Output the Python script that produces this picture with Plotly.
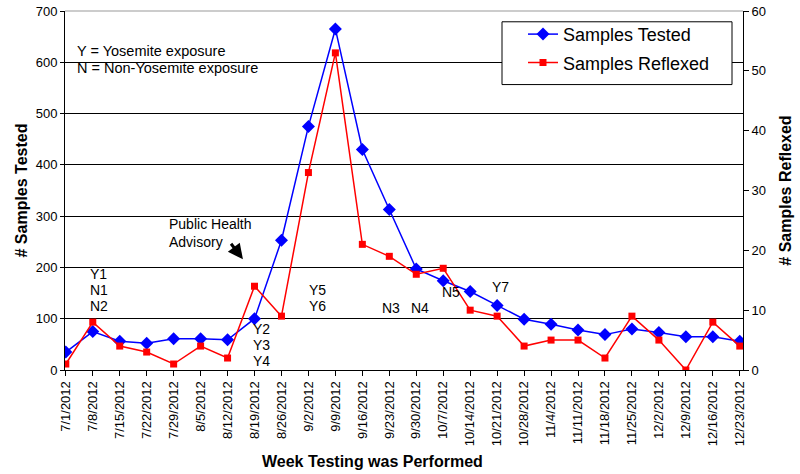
import plotly.graph_objects as go

weeks = ["7/1/2012", "7/8/2012", "7/15/2012", "7/22/2012", "7/29/2012", "8/5/2012",
         "8/12/2012", "8/19/2012", "8/26/2012", "9/2/2012", "9/9/2012", "9/16/2012",
         "9/23/2012", "9/30/2012", "10/7/2012", "10/14/2012", "10/21/2012", "10/28/2012",
         "11/4/2012", "11/11/2012", "11/18/2012", "11/25/2012", "12/2/2012", "12/9/2012",
         "12/16/2012", "12/23/2012"]
samples_tested = [35, 75, 56, 52, 61, 61, 59, 100, 253, 475, 665, 430, 313, 197, 174,
                  153, 126, 99, 89, 78, 69, 80, 73, 65, 65, 56]
samples_reflexed = [1, 8, 4, 3, 1, 4, 2, 14, 9, 33, 53, 21, 19, 16, 17, 10, 9, 4, 5, 5,
                    2, 9, 5, 0, 8, 4]
left_ticks = [0, 100, 200, 300, 400, 500, 600, 700]
right_ticks = [0, 10, 20, 30, 40, 50, 60]

# exposure labels: (text, x category index, y in left-axis units)
exposure_labels = [("Y1", 0.82, 188), ("N1", 0.82, 156), ("N2", 0.82, 125),
                   ("Y2", 6.88, 80), ("Y3", 6.88, 49), ("Y4", 6.88, 18),
                   ("Y5", 8.94, 156), ("Y6", 8.94, 125),
                   ("N3", 11.65, 120), ("N4", 12.72, 120),
                   ("N5", 13.87, 152), ("Y7", 15.73, 162)]

FONT = "Arial, Liberation Sans, sans-serif"

W, H = 800, 474
L, R, T, B = 65, 57, 4, 104
pw, ph = W - L - R, H - T - B


def px_x(p):
    return (p - L) / pw


def px_y(p):
    return 1 - (p - T) / ph


fig = go.Figure()
fig.add_trace(go.Scatter(x=weeks, y=samples_tested, name="Samples Tested", mode="lines+markers",
                         line=dict(color="#0000ff", width=1.5),
                         marker=dict(symbol="diamond", size=10, color="#0000ff"),
                         legendgroup="a"))
fig.add_trace(go.Scatter(x=weeks, y=samples_reflexed, name="Samples Reflexed", mode="lines+markers",
                         line=dict(color="#ff0000", width=1.5),
                         marker=dict(symbol="square", size=7, color="#ff0000"),
                         yaxis="y2", legendgroup="b"))

annotations = []
for txt, xi, yv in exposure_labels:
    annotations.append(dict(x=xi, y=yv, xref="x", yref="y", text=txt, showarrow=False,
                            xanchor="left", yanchor="middle", font=dict(size=14, color="black")))
for txt, px, py, fs in [("Y = Yosemite exposure", 75, 45, 14.5),
                        ("N = Non-Yosemite exposure", 75, 62, 14.5),
                        ("Public Health", 167, 221, 14),
                        ("Advisory", 167, 239, 14)]:
    annotations.append(dict(x=px_x(px), y=px_y(py), xref="paper", yref="paper", text=txt,
                            showarrow=False, xanchor="left", yanchor="middle",
                            font=dict(size=fs, color="black")))

# arrow for advisory
annotations.append(dict(x=6.57, y=216, xref="x", yref="y", text="", showarrow=True,
                        ax=-13, ay=-17, arrowhead=2, arrowsize=1, arrowwidth=3,
                        arrowcolor="black"))
# x axis title
annotations.append(dict(x=px_x(372), y=px_y(463), xref="paper", yref="paper",
                        text="<b>Week Testing was Performed</b>", showarrow=False,
                        xanchor="center", yanchor="middle",
                        font=dict(size=16, color="black")))

fig.update_layout(
    width=W, height=H,
    margin=dict(l=L, r=R, t=T, b=B),
    paper_bgcolor="white", plot_bgcolor="white",
    font=dict(family=FONT, color="black", size=13),
    showlegend=True,
    legend=dict(x=px_x(523), y=px_y(9), xanchor="left", yanchor="top",
                borderwidth=0, bgcolor="rgba(0,0,0,0)",
                font=dict(size=18, color="black"), tracegroupgap=2,
                itemwidth=30),
    xaxis=dict(type="category", range=[-0.03, 25.12], tickangle=-90,
               showline=True, linecolor="black", linewidth=1,
               ticks="outside", ticklen=5, tickcolor="black",
               showgrid=False, tickfont=dict(size=13)),
    yaxis=dict(range=[0, 700], tickvals=left_ticks, showline=True, linecolor="black",
               linewidth=1, ticks="outside", ticklen=4, tickcolor="black",
               showgrid=True, gridcolor="black", gridwidth=1, zeroline=False,
               tickfont=dict(size=13), ticklabeloverflow="allow",
               title=dict(text="<b># Samples Tested</b>", font=dict(size=16), standoff=4)),
    yaxis2=dict(range=[0, 60], tickvals=right_ticks, overlaying="y", side="right",
                showline=True, linecolor="black", linewidth=1, ticks="outside",
                ticklen=5, tickcolor="black", showgrid=False, zeroline=False,
                tickfont=dict(size=13), ticklabeloverflow="allow",
                title=dict(text="<b># Samples Reflexed</b>", font=dict(size=16), standoff=14)),
    annotations=annotations,
    shapes=[dict(type="line", xref="paper", yref="paper", x0=0, x1=1, y0=1, y1=1,
                 line=dict(color="#999999", width=1)),
            dict(type="rect", xref="paper", yref="paper", layer="above",
                 x0=px_x(502), x1=px_x(732), y0=px_y(79), y1=px_y(15),
                 line=dict(color="black", width=1), fillcolor="white")],
)

fig.write_html("out.html", config={"displayModeBar": False},
               post_script="document.body.style.margin='0';")
